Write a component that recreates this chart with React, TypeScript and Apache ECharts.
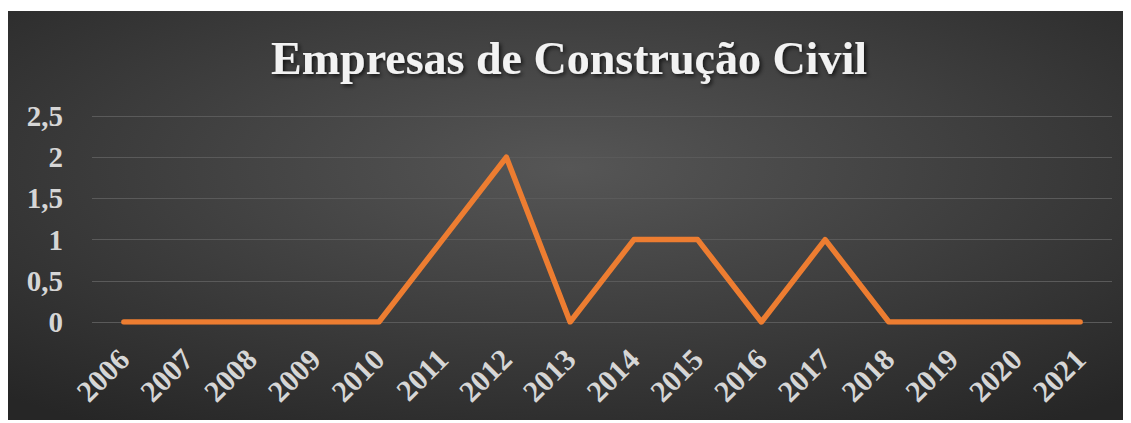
import React, { useEffect, useRef } from "react";
import * as echarts from "echarts";

const years = ["2006", "2007", "2008", "2009", "2010", "2011", "2012", "2013", "2014", "2015", "2016", "2017", "2018", "2019", "2020", "2021"];
const values = [0, 0, 0, 0, 0, 1, 2, 0, 1, 1, 0, 1, 0, 0, 0, 0];
const titleText = "Empresas de Construção Civil";

export default function App() {
  const ref = useRef<HTMLDivElement>(null);
  useEffect(() => {
    if (!ref.current) return;
    const chart = echarts.init(ref.current, null, { renderer: "svg" });
    const font = "'Liberation Serif', 'Times New Roman', serif";
    chart.setOption({
      animation: false,
      backgroundColor: "#2a2a2a",
      graphic: [
        {
          type: "rect",
          z: -10,
          silent: true,
          shape: { x: 0, y: 0, width: 1124, height: 412 },
          style: {
            fill: {
              type: "radial",
              x: 0.5,
              y: 0.38,
              r: 0.75,
              colorStops: [
                { offset: 0, color: "#565656" },
                { offset: 1, color: "#262626" },
              ],
            },
          },
        },
      ],
      title: {
        text: titleText,
        left: "center",
        top: 19,
        textStyle: {
          fontFamily: font,
          fontWeight: "bold",
          fontSize: 46,
          color: "#f2f2f2",
          textShadowColor: "rgba(0,0,0,0.7)",
          textShadowBlur: 4,
          textShadowOffsetX: 2,
          textShadowOffsetY: 2,
        },
      },
      grid: { left: 85, right: 19, top: 105, bottom: 101 },
      xAxis: {
        type: "category",
        data: years,
        axisLine: { show: false },
        axisTick: { show: false },
        axisLabel: {
          rotate: 45,
          interval: 0,
          margin: 32,
          fontFamily: font,
          fontWeight: "bold",
          fontSize: 30,
          color: "#d6d6d6",
        },
      },
      yAxis: {
        type: "value",
        min: 0,
        max: 2.5,
        interval: 0.5,
        axisLine: { show: false },
        axisTick: { show: false },
        splitLine: { lineStyle: { color: "#5a5a5a", width: 1 } },
        axisLabel: {
          margin: 29,
          fontFamily: font,
          fontWeight: "bold",
          fontSize: 29,
          color: "#d6d6d6",
          formatter: (v: number) => String(v).replace(".", ","),
        },
      },
      series: [
        {
          type: "line",
          data: values,
          symbol: "none",
          lineStyle: { color: "#ED7D31", width: 5.5, cap: "round", join: "round" },
        },
      ],
    });
    return () => chart.dispose();
  }, []);
  return (
    <div
      ref={ref}
      style={{ width: 1124, height: 412, position: "relative", left: -1, top: 3 }}
    />
  );
}
